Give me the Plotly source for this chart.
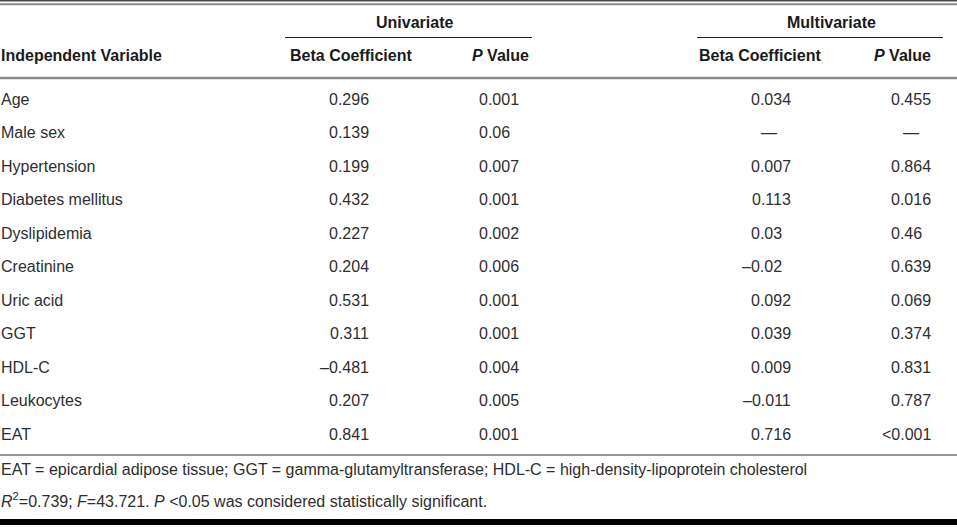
import plotly.graph_objects as go

# ---------------- data ----------------
variables = ["Age", "Male sex", "Hypertension", "Diabetes mellitus", "Dyslipidemia",
             "Creatinine", "Uric acid", "GGT", "HDL-C", "Leukocytes", "EAT"]
uni_beta = ["0.296", "0.139", "0.199", "0.432", "0.227", "0.204", "0.531", "0.311",
            "–0.481", "0.207", "0.841"]
uni_p = ["0.001", "0.06", "0.007", "0.001", "0.002", "0.006", "0.001", "0.001",
         "0.004", "0.005", "0.001"]
multi_beta = ["0.034", "—", "0.007", "0.113", "0.03", "–0.02", "0.092", "0.039",
              "0.009", "–0.011", "0.716"]
multi_p = ["0.455", "—", "0.864", "0.016", "0.46", "0.639", "0.069", "0.374",
           "0.831", "0.787", "&lt;0.001"]

group_headers = ["Univariate", "Multivariate"]
column_headers = ["Independent Variable", "Beta Coefficient", "<i>P</i> Value",
                  "Beta Coefficient", "<i>P</i> Value"]
footnotes = [
    "EAT = epicardial adipose tissue; GGT = gamma-glutamyltransferase; "
    "HDL-C = high-density-lipoprotein cholesterol",
    "<i>R</i><sup>2</sup>=0.739; <i>F</i>=43.721. <i>P</i> &lt;0.05 was considered "
    "statistically significant.",
]

# ---------------- layout constants ----------------
W, H = 957, 527
FONT = "Liberation Sans, Arial, sans-serif"
BODY_COLOR = "#2e2e2e"
HEAD_COLOR = "#1a1a1a"
ROW_Y0, ROW_STEP = 99, 33.5
DECIMALS = 3
value_cols = [uni_beta, uni_p, multi_beta, multi_p]
right_x = [370, 520, 792, 932]        # right edge of a full 3-decimal value
dash_x = [350, 500, 769, 911]         # centre for non-numeric entries
head_center = [351, 500, 760, 902]
group_center = [414, 831]
group_span = [(285, 532), (697, 943)]
GHOST = '<span style="color:rgba(0,0,0,0)">{}</span>'

fig = go.Figure()
fig.add_trace(go.Scatter(x=[0, W], y=[0, H], mode="markers",
                         marker=dict(opacity=0), hoverinfo="skip", showlegend=False))

ann = []


def add_text(x, y, text, anchor="left", size=16, color=BODY_COLOR):
    ann.append(dict(x=x, y=y, xref="x", yref="y", text=text, showarrow=False,
                    xanchor=anchor, yanchor="middle", borderpad=0,
                    font=dict(family=FONT, size=size, color=color)))


def decimal_text(v):
    """pad the fractional part with invisible digits so right-anchoring aligns decimals"""
    frac = v.split(".", 1)[1]
    pad = DECIMALS - len(frac)
    return v + (GHOST.format("0" * pad) if pad > 0 else "")


# group headers
for name, cx in zip(group_headers, group_center):
    add_text(cx, 22.5, "<b>" + name + "</b>", "center", color=HEAD_COLOR)

# column headers
add_text(0, 55, "<b>" + column_headers[0] + "</b>", "left", color=HEAD_COLOR)
for name, cx in zip(column_headers[1:], head_center):
    add_text(cx, 55, "<b>" + name + "</b>", "center", color=HEAD_COLOR)

# body rows
for i, var in enumerate(variables):
    y = ROW_Y0 + i * ROW_STEP
    add_text(0, y, var, "left")
    for col, rx, dx in zip(value_cols, right_x, dash_x):
        v = col[i]
        if "." in v:
            add_text(rx, y, decimal_text(v), "right")
        else:
            add_text(dx, y, v, "center")

# footnotes
for k, note in enumerate(footnotes):
    add_text(0, 469 + k * 31, note, "left", size=16)

# rules
shapes = []


def hline(x0, x1, y, w, color):
    shapes.append(dict(type="line", xref="x", yref="y", x0=x0, x1=x1, y0=y, y1=y,
                       line=dict(color=color, width=w)))


hline(0, W, 0.8, 1.6, "#4a4a4a")
hline(0, W, 4.2, 2, "#8a8a8a")
for (a, b) in group_span:
    hline(a, b, 37.5, 1.2, "#222222")
hline(0, W, 78, 2.6, "#8a8a8a")
hline(0, W, 455, 1.5, "#707070")
hline(0, W, 522, 6, "#000000")

fig.update_layout(
    width=W, height=H,
    margin=dict(l=0, r=0, t=0, b=0),
    paper_bgcolor="white", plot_bgcolor="white",
    xaxis=dict(range=[0, W], visible=False, fixedrange=True),
    yaxis=dict(range=[H, 0], visible=False, fixedrange=True),
    annotations=ann, shapes=shapes, showlegend=False,
)

fig.write_html("out.html", config={"displayModeBar": False},
               post_script="document.body.style.margin='0';"
                           "document.body.style.overflow='hidden';")
